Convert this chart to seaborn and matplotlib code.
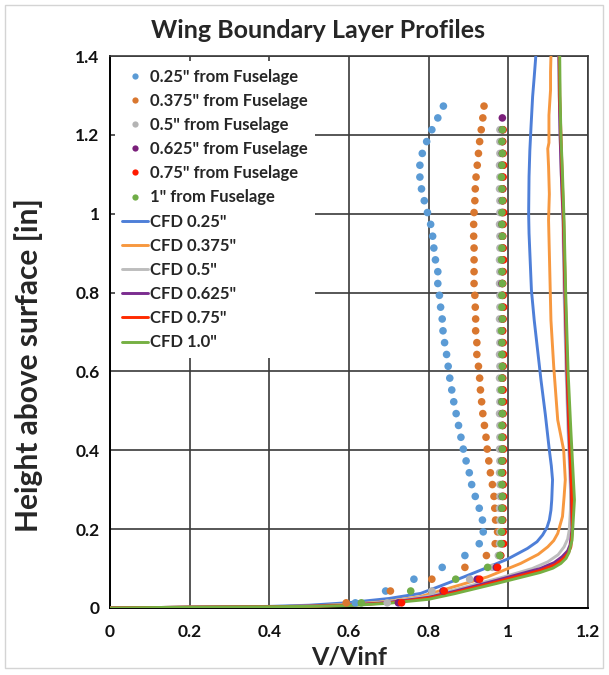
import matplotlib
matplotlib.use("Agg")
import matplotlib.pyplot as plt
from matplotlib.lines import Line2D
from matplotlib.patches import Rectangle
from matplotlib.ticker import MultipleLocator, FuncFormatter
import seaborn as sns
import pandas as pd

# ---------------- data ----------------
heights = [0.013, 0.043, 0.073, 0.103, 0.133, 0.163, 0.193, 0.223, 0.253, 0.283,
           0.313, 0.343, 0.373, 0.403, 0.433, 0.463, 0.493, 0.523, 0.553, 0.583,
           0.613, 0.643, 0.673, 0.703, 0.733, 0.763, 0.793, 0.823, 0.853, 0.883,
           0.913, 0.943, 0.973, 1.003, 1.033, 1.063, 1.093, 1.123, 1.153, 1.183,
           1.213, 1.243, 1.273]

exp_025 = [0.616, 0.692, 0.763, 0.834, 0.891, 0.927, 0.937, 0.935, 0.927, 0.917,
           0.908, 0.902, 0.894, 0.887, 0.881, 0.875, 0.869, 0.863, 0.858, 0.853,
           0.849, 0.845, 0.840, 0.836, 0.834, 0.830, 0.827, 0.823, 0.823, 0.817,
           0.813, 0.810, 0.805, 0.797, 0.789, 0.782, 0.778, 0.778, 0.784, 0.795,
           0.808, 0.823, 0.837]
exp_0375 = [0.593, 0.704, 0.808, 0.891, 0.945, 0.967, 0.973, 0.968, 0.966, 0.964,
            0.960, 0.955, 0.951, 0.947, 0.944, 0.940, 0.936, 0.933, 0.930, 0.928,
            0.925, 0.921, 0.921, 0.918, 0.918, 0.917, 0.916, 0.914, 0.914, 0.914,
            0.914, 0.913, 0.913, 0.914, 0.916, 0.917, 0.919, 0.922, 0.925, 0.928,
            0.932, 0.936, 0.939]
exp_05 = [0.696, 0.808, 0.903, 0.960, 0.975, 0.978, 0.979, 0.979, 0.978, 0.979,
          0.979, 0.978, 0.979, 0.978, 0.979, 0.979, 0.978, 0.979, 0.979, 0.978,
          0.979, 0.978, 0.979, 0.979, 0.978, 0.979, 0.979, 0.978, 0.979, 0.978,
          0.979, 0.979, 0.978, 0.979, 0.979, 0.978, 0.979, 0.978, 0.979, 0.979,
          0.979]
exp_0625 = [0.724, 0.836, 0.922, 0.970, 0.980, 0.984, 0.985, 0.985, 0.984, 0.985,
            0.986, 0.985, 0.984, 0.985, 0.985, 0.986, 0.985, 0.984, 0.985, 0.985,
            0.986, 0.985, 0.984, 0.985, 0.985, 0.986, 0.985, 0.984, 0.985, 0.985,
            0.986, 0.985, 0.984, 0.985, 0.985, 0.986, 0.985, 0.984, 0.985, 0.985,
            0.985, 0.985]
exp_075 = [0.732, 0.839, 0.928, 0.973, 0.981, 0.988, 0.987, 0.986, 0.987, 0.988,
           0.987, 0.986, 0.987, 0.988, 0.987, 0.986, 0.987, 0.988, 0.987, 0.986,
           0.987, 0.988, 0.987, 0.986, 0.987, 0.988, 0.987, 0.986, 0.987, 0.988,
           0.987, 0.986, 0.987, 0.988, 0.987, 0.986, 0.987, 0.988, 0.987, 0.986,
           0.987]
exp_1 = [0.631, 0.755, 0.868, 0.948, 0.979, 0.982, 0.983, 0.984, 0.984, 0.985,
         0.984, 0.983, 0.984, 0.985, 0.984, 0.984, 0.985, 0.984, 0.983, 0.984,
         0.985, 0.984, 0.984, 0.983, 0.985, 0.984, 0.984, 0.985, 0.984, 0.983,
         0.984, 0.985, 0.984, 0.984, 0.985, 0.984, 0.983, 0.984, 0.985, 0.984,
         0.985]

cfd_025_v = [0, 0.2, 0.4, 0.5, 0.6, 0.7, 0.78, 0.83, 0.889, 0.948, 0.998, 1.048,
             1.072, 1.086, 1.097, 1.103, 1.107, 1.109, 1.111, 1.108, 1.103, 1.093,
             1.082, 1.065, 1.058, 1.052, 1.051, 1.052, 1.054, 1.057, 1.061, 1.065, 1.069]
cfd_025_h = [0, 0.002, 0.004, 0.007, 0.0135, 0.024, 0.037, 0.056, 0.079, 0.103, 0.124, 0.151,
             0.168, 0.185, 0.204, 0.223, 0.248, 0.274, 0.325, 0.36, 0.40, 0.49,
             0.578, 0.73, 0.806, 0.95, 1.0, 1.094, 1.16, 1.221, 1.297, 1.347, 1.40]

cfd_0375_v = [0, 0.2, 0.4, 0.5, 0.6, 0.7, 0.78, 0.864, 0.948, 1.031, 1.075, 1.099,
              1.114, 1.124, 1.136, 1.140, 1.143, 1.139, 1.124, 1.114, 1.107, 1.103,
              1.101, 1.103, 1.101, 1.099, 1.102, 1.102, 1.106, 1.106, 1.107]
cfd_0375_h = [0, 0.002, 0.003, 0.005, 0.009, 0.017, 0.029, 0.054, 0.079, 0.113, 0.136, 0.155,
              0.171, 0.189, 0.232, 0.282, 0.325, 0.40, 0.477, 0.612, 0.73, 0.90,
              0.984, 1.05, 1.12, 1.165, 1.18, 1.25, 1.314, 1.36, 1.40]

cfd_05_v = [0, 0.2, 0.4, 0.5, 0.6, 0.7, 0.8, 0.864, 0.989, 1.060, 1.099, 1.125, 1.140,
            1.149, 1.153, 1.156, 1.156, 1.150, 1.145, 1.140, 1.137, 1.133, 1.130, 1.128, 1.127]
cfd_05_h = [0, 0.002, 0.003, 0.005, 0.008, 0.016, 0.030, 0.046, 0.079, 0.100, 0.117, 0.135, 0.155,
            0.175, 0.198, 0.25, 0.30, 0.45, 0.6, 0.8, 0.98, 1.1, 1.2, 1.3, 1.4]

cfd_0625_v = [0, 0.2, 0.4, 0.5, 0.6, 0.7, 0.8, 0.864, 0.97, 1.08, 1.115, 1.135,
              1.149, 1.155, 1.160, 1.158, 1.152, 1.147, 1.142, 1.138, 1.133, 1.130, 1.128, 1.127]
cfd_0625_h = [0, 0.002, 0.003, 0.005, 0.007, 0.014, 0.027, 0.042, 0.070, 0.10, 0.115, 0.13,
              0.145, 0.16, 0.20, 0.30, 0.45, 0.6, 0.8, 0.98, 1.1, 1.2, 1.3, 1.4]

cfd_075_v = [0, 0.2, 0.4, 0.5, 0.6, 0.7, 0.8, 0.864, 0.97, 1.08, 1.118, 1.138,
             1.151, 1.157, 1.161, 1.159, 1.153, 1.148, 1.143, 1.139, 1.135, 1.132, 1.129, 1.128]
cfd_075_h = [0, 0.002, 0.003, 0.004, 0.007, 0.013, 0.025, 0.039, 0.066, 0.095, 0.110, 0.125,
             0.140, 0.155, 0.20, 0.30, 0.45, 0.6, 0.8, 0.98, 1.1, 1.2, 1.3, 1.4]

cfd_1_v = [0, 0.2, 0.4, 0.5, 0.6, 0.7, 0.8, 0.864, 0.97, 1.08, 1.112, 1.132, 1.145,
           1.152, 1.160, 1.166, 1.157, 1.150, 1.144, 1.140, 1.136, 1.132, 1.130, 1.129]
cfd_1_h = [0, 0.002, 0.003, 0.004, 0.006, 0.012, 0.022, 0.036, 0.062, 0.090, 0.101, 0.113, 0.126,
           0.14, 0.172, 0.274, 0.45, 0.6, 0.8, 0.98, 1.1, 1.2, 1.3, 1.4]

exp_labels = ['0.25" from Fuselage', '0.375" from Fuselage', '0.5" from Fuselage',
              '0.625" from Fuselage', '0.75" from Fuselage', '1" from Fuselage']
cfd_labels = ['CFD 0.25"', 'CFD 0.375"', 'CFD 0.5"', 'CFD 0.625"', 'CFD 0.75"', 'CFD 1.0"']
exp_series = [exp_025, exp_0375, exp_05, exp_0625, exp_075, exp_1]
cfd_series = [(cfd_025_v, cfd_025_h), (cfd_0375_v, cfd_0375_h), (cfd_05_v, cfd_05_h),
              (cfd_0625_v, cfd_0625_h), (cfd_075_v, cfd_075_h), (cfd_1_v, cfd_1_h)]

dot_colors = ['#5B9BD5', '#D9772F', '#B4B4B4', '#7A1F7A', '#FF1A00', '#70AD47']
line_colors = ['#4E7FD8', '#F7983F', '#BDBDBD', '#7B2C8F', '#FF2A00', '#76B043']

x_ticks = [0, 0.2, 0.4, 0.6, 0.8, 1.0, 1.2]
y_ticks = [0, 0.2, 0.4, 0.6, 0.8, 1.0, 1.2, 1.4]

# ---------------- tidy tables ----------------
exp_rows = []
for lab, vals in zip(exp_labels, exp_series):
    for v, h in zip(vals, heights):
        exp_rows.append({"series": lab, "V": v, "h": h})
exp_df = pd.DataFrame(exp_rows)

cfd_rows = []
for lab, (vs, hs) in zip(cfd_labels, cfd_series):
    for v, h in zip(vs, hs):
        cfd_rows.append({"series": lab, "V": v, "h": h})
cfd_df = pd.DataFrame(cfd_rows)

# ---------------- plot ----------------
sns.set_style("white")
plt.rcParams['font.family'] = ['Lato', 'DejaVu Sans']

fig = plt.figure(figsize=(6.09, 6.75), dpi=100)
ax = fig.add_axes([0.1806, 0.0993, 0.7849, 0.8177])

sns.lineplot(data=cfd_df, x="V", y="h", hue="series", hue_order=cfd_labels,
             palette=line_colors, sort=False, estimator=None,
             linewidth=2.1, legend=False, ax=ax, zorder=3)
sns.scatterplot(data=exp_df, x="V", y="h", hue="series", hue_order=exp_labels,
                palette=dot_colors, s=30, linewidth=0, legend=False, ax=ax, zorder=4)

ax.set_xlim(0, 1.2)
ax.set_ylim(0, 1.4)
ax.set_xticks(x_ticks)
ax.set_yticks(y_ticks)
ax.xaxis.set_minor_locator(MultipleLocator(0.04))
ax.yaxis.set_minor_locator(MultipleLocator(0.04))
fmt = FuncFormatter(lambda v, p: f"{v:g}")
ax.xaxis.set_major_formatter(fmt)
ax.yaxis.set_major_formatter(fmt)

ax.set_axisbelow(True)
ax.grid(which='major', color='#3a3a3a', linewidth=1.2)
for side in ['top', 'right']:
    ax.spines[side].set_color('#3a3a3a')
    ax.spines[side].set_linewidth(1.2)
for side in ['left', 'bottom']:
    ax.spines[side].set_color('#000000')
    ax.spines[side].set_linewidth(1.4)

ax.tick_params(which='both', direction='inout', length=7, width=1.2, color='#000000',
               top=False, right=False)
ax.tick_params(axis='x', which='major', pad=8, labelsize=12.5)
ax.tick_params(axis='y', which='major', pad=4, labelsize=12.5)
for lbl in ax.get_xticklabels() + ax.get_yticklabels():
    lbl.set_fontweight('bold')
    lbl.set_color('#111111')

ax.set_xlabel("V/Vinf", fontsize=18, fontweight='bold', labelpad=4)
ax.set_ylabel("Height above surface [in]", fontsize=21.5, fontweight='bold')
ax.yaxis.set_label_coords(-0.14, 0.44)
fig.text(0.522, 0.955, "Wing Boundary Layer Profiles", ha='center', va='center',
         fontsize=18, fontweight='bold')

handles = []
for lab, c in zip(exp_labels, dot_colors):
    handles.append(Line2D([], [], linestyle='none', marker='o', markersize=4.5,
                          markerfacecolor=c, markeredgewidth=0, label=lab))
for lab, c in zip(cfd_labels, line_colors):
    handles.append(Line2D([], [], color=c, linewidth=2.1, label=lab))
leg = ax.legend(handles=handles, loc='upper left', frameon=True, fancybox=False,
                framealpha=1, edgecolor='none', facecolor='white',
                prop={'weight': 'bold', 'size': 12}, labelspacing=0.49,
                handlelength=1.55, handletextpad=0.1, borderpad=0.45,
                borderaxespad=0.3)
leg.set_zorder(6)

fig.patches.append(Rectangle((0.008, 0.01), 0.982, 0.982, transform=fig.transFigure,
                             fill=False, edgecolor='#d4d4d4', linewidth=1.0))

fig.savefig("out.png", dpi=100)
